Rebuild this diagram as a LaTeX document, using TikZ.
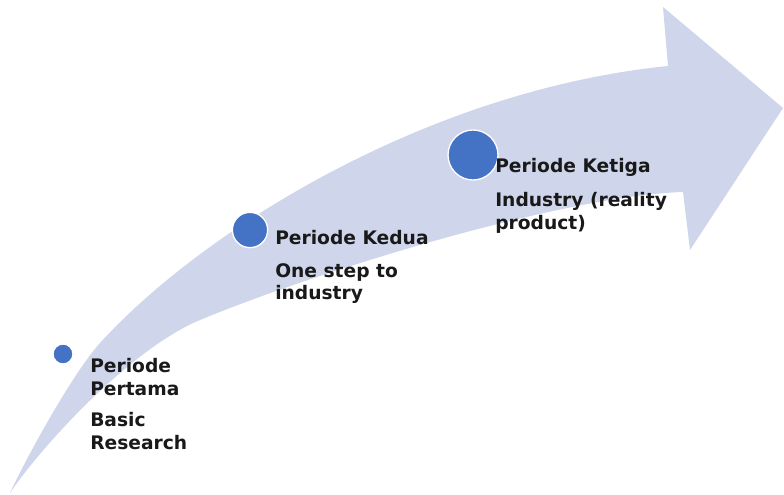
\documentclass[tikz,border=0pt]{standalone}
\usepackage{fontspec}
\setmainfont{DejaVu Sans}
\definecolor{arrowfill}{RGB}{207,213,234}
\definecolor{dotblue}{RGB}{68,114,196}

\begin{document}
\begin{tikzpicture}[x=0.75pt,y=0.75pt,yscale=-1,xscale=1,
  dot/.style={circle,fill=dotblue,draw=white,line width=1pt,inner sep=0pt},
  lbl/.style={anchor=north west,inner sep=0pt,align=left,text=black!90,font=\fontsize{14}{17}\selectfont\bfseries}]
\useasboundingbox (0,0) rectangle (784,495);

%Shape: Curved Right Arrow
\draw [draw=none,fill=arrowfill] (10,493) .. controls (30,450) and (75,370.5) .. (100,343) .. controls (205,228) and (430,90) .. (668,66) -- (663,7) -- (783,108) -- (690,250) -- (683,192) .. controls (560,196) and (310,274) .. (200,320) .. controls (130,349) and (40,448) .. (10,493) -- cycle ;

%Shape: Circle
\node [dot,minimum size=15pt] (dot1) at (63,354) {};
%Shape: Circle
\node [dot,minimum size=26.5pt] (dot2) at (250,230) {};
%Shape: Circle
\node [dot,minimum size=37.5pt] (dot3) at (473,155) {};

% Text Node
\node [lbl] (txt1) at (90,358) {Periode\\Pertama\\[6.5pt]Basic\\Research};
% Text Node
\node [lbl] (txt2) at (275,230) {Periode Kedua\\[7.5pt]One step to\\industry};
% Text Node
\node [lbl] (txt3) at (495,158) {Periode Ketiga\\[8.5pt]Industry (reality\\product)};

\end{tikzpicture}
\end{document}
